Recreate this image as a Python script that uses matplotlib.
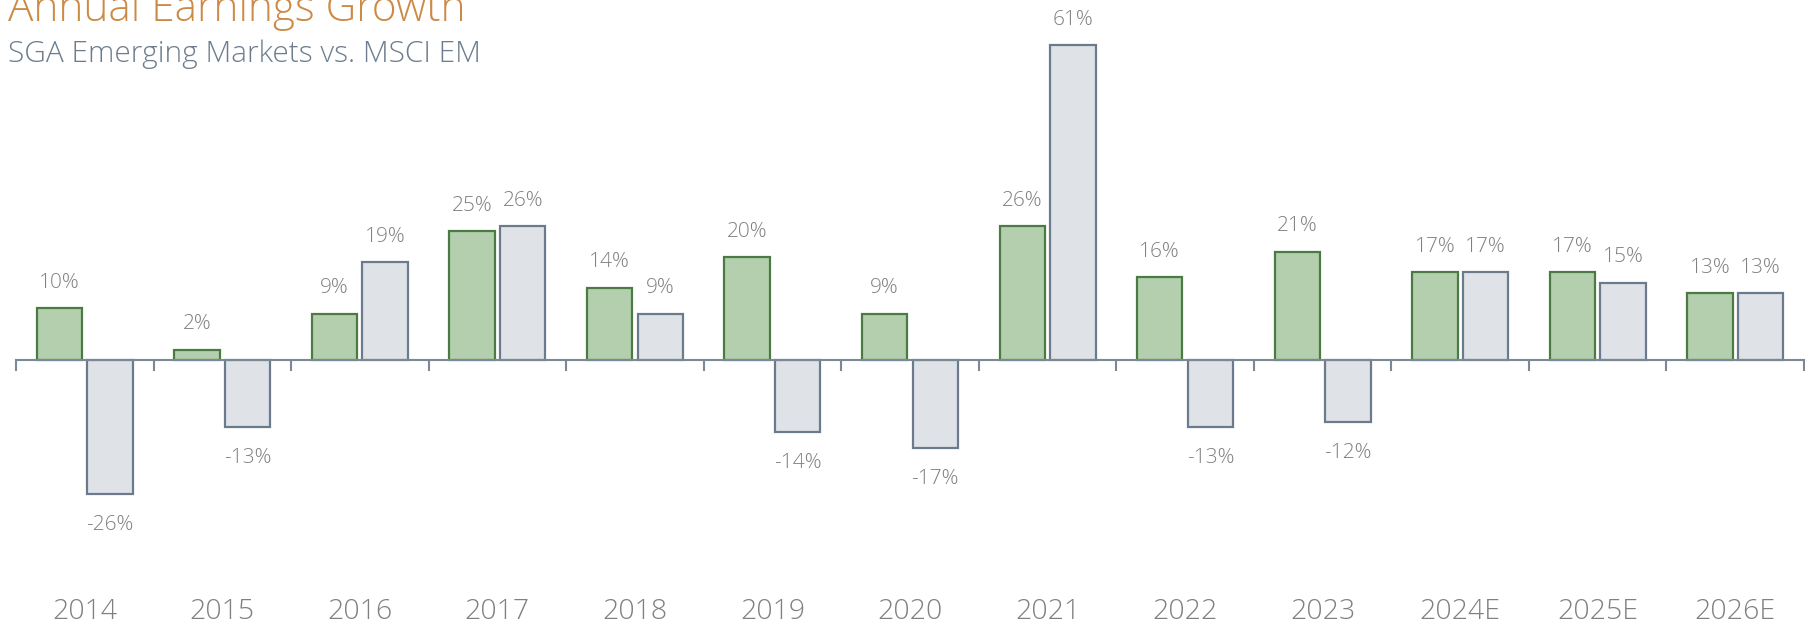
import matplotlib
matplotlib.use("Agg")
import matplotlib.pyplot as plt
from matplotlib.transforms import blended_transform_factory

years = ["2014", "2015", "2016", "2017", "2018", "2019", "2020", "2021",
         "2022", "2023", "2024E", "2025E", "2026E"]
sga = [10, 2, 9, 25, 14, 20, 9, 26, 16, 21, 17, 17, 13]
msci = [-26, -13, 19, 26, 9, -14, -17, 61, -13, -12, 17, 15, 13]

FONT = ["Open Sans", "Lato", "DejaVu Sans"]
plt.rcParams["font.family"] = FONT

W, H = 1805, 629
fig = plt.figure(figsize=(W / 100, H / 100), dpi=100)

# axes placement: zero line at y=360px, 5.16 px per percent
ylo, yhi = -35, 70
ppp = 5.16
zero_px = 360
top_px = zero_px - yhi * ppp
bot_px = zero_px - ylo * ppp
left_px, right_px = 16, 1804
ax = fig.add_axes([left_px / W, 1 - bot_px / H, (right_px - left_px) / W, (bot_px - top_px) / H])
ax.set_xlim(-0.5, len(years) - 0.5)
ax.set_ylim(ylo, yhi)

green_fill, green_edge = "#b3cfae", "#4b7a42"
grey_fill, grey_edge = "#dfe3e7", "#6c7b8c"
axis_col = "#7b8898"

x = list(range(len(years)))
bw = 0.33
off = 0.184
ax.bar([i - off for i in x], sga, width=bw, color=green_fill, edgecolor=green_edge, linewidth=1.6, zorder=3)
ax.bar([i + off for i in x], msci, width=bw, color=grey_fill, edgecolor=grey_edge, linewidth=1.6, zorder=3)

label_col = "#808080"
for i, v in enumerate(sga):
    ax.annotate(f"{v}%", (i - off, v), xytext=(0, 11 if v >= 0 else -15), textcoords="offset points",
                ha="center", va="bottom" if v >= 0 else "top", fontsize=15, color=label_col,
                fontweight="light")
for i, v in enumerate(msci):
    ax.annotate(f"{v}%", (i + off, v), xytext=(0, 11 if v >= 0 else -15), textcoords="offset points",
                ha="center", va="bottom" if v >= 0 else "top", fontsize=15, color=label_col,
                fontweight="light")

# axis styling
for s in ["top", "right", "left"]:
    ax.spines[s].set_visible(False)
ax.spines["bottom"].set_position(("data", 0))
ax.spines["bottom"].set_color(axis_col)
ax.spines["bottom"].set_linewidth(1.5)
ax.spines["bottom"].set_zorder(4)
ax.set_yticks([])
ax.set_xticks([])
ax.set_xticks([i - 0.5 for i in range(len(years) + 1)], minor=True)
ax.tick_params(axis="x", which="minor", direction="out", length=8, width=1.5, color=axis_col)
ax.tick_params(axis="x", which="major", length=0)

tr = blended_transform_factory(ax.transData, fig.transFigure)
for i, yr in enumerate(years):
    ax.text(i, 1 - 619 / H, yr, transform=tr, ha="center", va="baseline", fontsize=20.5,
            color="#808080", fontweight="light")

fig.text(8 / W, 1 - 20.7 / H, "Annual Earnings Growth", ha="left", va="baseline",
         fontsize=30.5, color="#cc8a45", fontweight="light")
fig.text(8 / W, 1 - 62 / H, "SGA Emerging Markets vs. MSCI EM", ha="left", va="baseline",
         fontsize=21.5, color="#6e7d8d", fontweight="light")

fig.savefig("out.png", dpi=100)
